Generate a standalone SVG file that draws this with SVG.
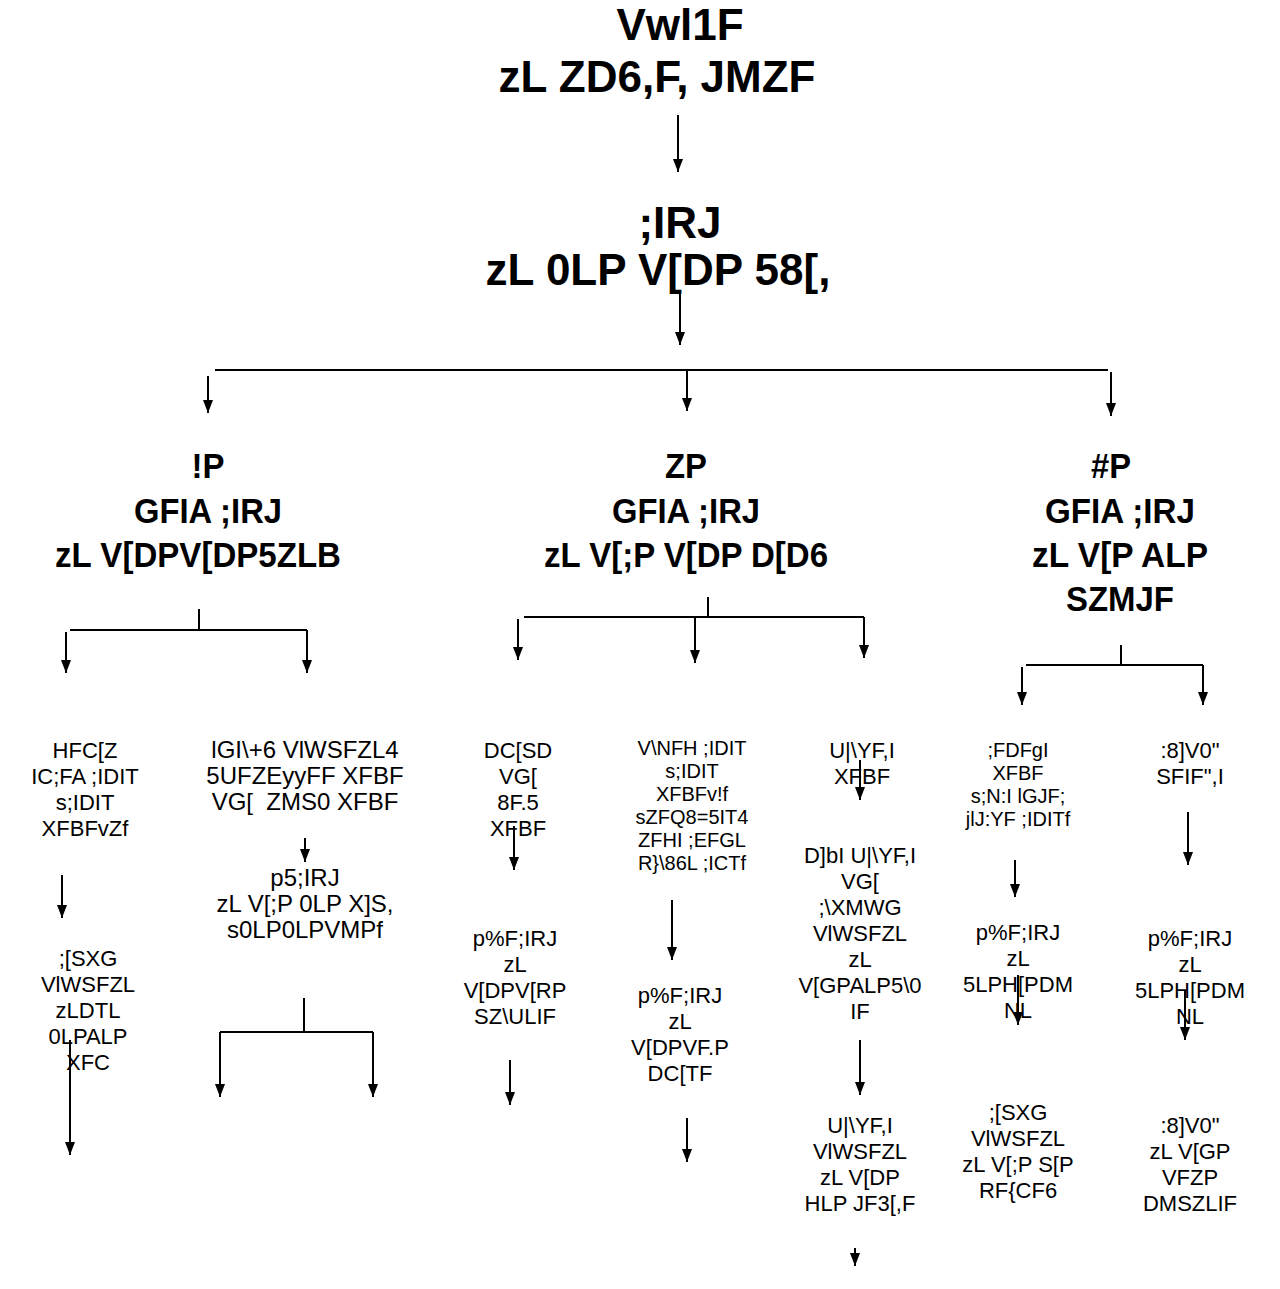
<svg xmlns="http://www.w3.org/2000/svg" width="1280" height="1289" viewBox="0 0 1280 1289">
<defs>
<marker id="ah" markerUnits="userSpaceOnUse" markerWidth="13" markerHeight="10" refX="13" refY="5" orient="auto" viewBox="0 0 13 10">
<path d="M0,0 L13,5 L0,10 Z" fill="#000"/>
</marker>
<style>
.t1{font-family:"Liberation Sans",Arial,sans-serif;font-weight:bold;font-size:44px;fill:#000;text-anchor:middle}
.t2{font-family:"Liberation Sans",Arial,sans-serif;font-weight:bold;font-size:35px;fill:#000;text-anchor:middle}
.t3{font-family:"Liberation Sans",Arial,sans-serif;font-size:22px;fill:#000;text-anchor:middle}
.t5{font-family:"Liberation Sans",Arial,sans-serif;font-size:24px;fill:#000;text-anchor:middle;white-space:pre}
.t4{font-family:"Liberation Sans",Arial,sans-serif;font-size:20px;fill:#000;text-anchor:middle}
.ln{stroke:#000;stroke-width:2;fill:none}
.ar{stroke:#000;stroke-width:2;fill:none;marker-end:url(#ah)}
</style>
</defs>
<rect width="1280" height="1289" fill="#fff"/>

<g id="connectors">
<path class="ar" d="M678,115 V172"/>
<path class="ar" d="M680,292 V345"/>
<path class="ln" d="M215,370 H1108"/>
<path class="ar" d="M208,376 V413"/>
<path class="ar" d="M687,370 V411"/>
<path class="ar" d="M1111,372 V416"/>

<path class="ln" d="M199,609 V630 M70,630 H307"/>
<path class="ar" d="M66,632 V673"/>
<path class="ar" d="M307,630 V673"/>

<path class="ln" d="M708,597 V617 M524,617 H864"/>
<path class="ar" d="M518,619 V660"/>
<path class="ar" d="M695,617 V663"/>
<path class="ar" d="M864,617 V658"/>

<path class="ln" d="M1121,645 V665 M1026,665 H1203"/>
<path class="ar" d="M1022,667 V705"/>
<path class="ar" d="M1203,665 V705"/>

<path class="ar" d="M62,875 V918"/>
<path class="ar" d="M70,1040 V1155"/>
<path class="ar" d="M305,838 V862"/>
<path class="ln" d="M304,998 V1032 M220,1032 H373"/>
<path class="ar" d="M220,1032 V1097"/>
<path class="ar" d="M373,1032 V1097"/>
<path class="ar" d="M514,826 V870"/>
<path class="ar" d="M510,1060 V1105"/>
<path class="ar" d="M672,900 V960"/>
<path class="ar" d="M687,1118 V1162"/>
<path class="ar" d="M860,760 V800"/>
<path class="ar" d="M860,1040 V1095"/>
<path class="ar" d="M855,1248 V1266"/>
<path class="ar" d="M1015,860 V897"/>
<path class="ar" d="M1018,975 V1025"/>
<path class="ar" d="M1188,812 V865"/>
<path class="ar" d="M1185,990 V1040"/>
</g>

<g id="n-root">
<text class="t1"><tspan x="680" y="40">Vwl1F</tspan><tspan x="657" y="92">zL ZD6,F, JMZF</tspan></text>
</g>
<g id="n-main">
<text class="t1"><tspan x="680" y="238">;IRJ</tspan><tspan x="658" y="285">zL 0LP V[DP 58[,</tspan></text>
</g>

<g id="n-b1">
<text class="t2" x="208" y="478" textLength="33" lengthAdjust="spacingAndGlyphs">!P</text>
<text class="t2" x="208" y="523" textLength="148" lengthAdjust="spacingAndGlyphs">GFIA ;IRJ</text>
<text class="t2" x="198" y="567" textLength="286" lengthAdjust="spacingAndGlyphs">zL V[DPV[DP5ZLB</text>
</g>
<g id="n-b2">
<text class="t2" x="686" y="478" textLength="42" lengthAdjust="spacingAndGlyphs">ZP</text>
<text class="t2" x="686" y="523" textLength="148" lengthAdjust="spacingAndGlyphs">GFIA ;IRJ</text>
<text class="t2" x="686" y="567" textLength="284" lengthAdjust="spacingAndGlyphs">zL V[;P V[DP D[D6</text>
</g>
<g id="n-b3">
<text class="t2" x="1111" y="478" textLength="40" lengthAdjust="spacingAndGlyphs">#P</text>
<text class="t2" x="1120" y="523" textLength="150" lengthAdjust="spacingAndGlyphs">GFIA ;IRJ</text>
<text class="t2" x="1120" y="567" textLength="176" lengthAdjust="spacingAndGlyphs">zL V[P ALP</text>
<text class="t2" x="1120" y="611" textLength="108" lengthAdjust="spacingAndGlyphs">SZMJF</text>
</g>

<g id="n-c1a">
<text class="t3"><tspan x="85" y="758">HFC[Z</tspan><tspan x="85" y="784">IC;FA ;IDIT</tspan><tspan x="85" y="810">s;IDIT</tspan><tspan x="85" y="836">XFBFvZf</tspan></text>
</g>
<g id="n-c1b">
<text class="t3"><tspan x="88" y="966">;[SXG</tspan><tspan x="88" y="992">VlWSFZL</tspan><tspan x="88" y="1018">zLDTL</tspan><tspan x="88" y="1044">0LPALP</tspan><tspan x="88" y="1070">XFC</tspan></text>
</g>

<g id="n-c2a">
<text class="t5"><tspan x="305" y="758">lGI\+6 VlWSFZL4</tspan><tspan x="305" y="784">5UFZEyyFF XFBF</tspan><tspan x="305" y="810">VG[  ZMS0 XFBF</tspan></text>
</g>
<g id="n-c2b">
<text class="t5"><tspan x="305" y="886">p5;IRJ</tspan><tspan x="305" y="912">zL V[;P 0LP X]S,</tspan><tspan x="305" y="938">s0LP0LPVMPf</tspan></text>
</g>

<g id="n-c3a">
<text class="t3"><tspan x="518" y="758">DC[SD</tspan><tspan x="518" y="784">VG[</tspan><tspan x="518" y="810">8F.5</tspan><tspan x="518" y="836">XFBF</tspan></text>
</g>
<g id="n-c3b">
<text class="t3"><tspan x="515" y="946">p%F;IRJ</tspan><tspan x="515" y="972">zL</tspan><tspan x="515" y="998">V[DPV[RP</tspan><tspan x="515" y="1024">SZ\ULIF</tspan></text>
</g>

<g id="n-c4a">
<text class="t4"><tspan x="692" y="755">V\NFH ;IDIT</tspan><tspan x="692" y="778">s;IDIT</tspan><tspan x="692" y="801">XFBFv!f</tspan><tspan x="692" y="824">sZFQ8=5IT4</tspan><tspan x="692" y="847">ZFHI ;EFGL</tspan><tspan x="692" y="870">R}\86L ;ICTf</tspan></text>
</g>
<g id="n-c4b">
<text class="t3"><tspan x="680" y="1003">p%F;IRJ</tspan><tspan x="680" y="1029">zL</tspan><tspan x="680" y="1055">V[DPVF.P</tspan><tspan x="680" y="1081">DC[TF</tspan></text>
</g>

<g id="n-c5a">
<text class="t3"><tspan x="862" y="758">U|\YF,I</tspan><tspan x="862" y="784">XFBF</tspan></text>
</g>
<g id="n-c5b">
<text class="t3"><tspan x="860" y="863">D]bI U|\YF,I</tspan><tspan x="860" y="889">VG[</tspan><tspan x="860" y="915">;\XMWG</tspan><tspan x="860" y="941">VlWSFZL</tspan><tspan x="860" y="967">zL</tspan><tspan x="860" y="993">V[GPALP5\0</tspan><tspan x="860" y="1019">IF</tspan></text>
</g>
<g id="n-c5c">
<text class="t3"><tspan x="860" y="1133">U|\YF,I</tspan><tspan x="860" y="1159">VlWSFZL</tspan><tspan x="860" y="1185">zL V[DP</tspan><tspan x="860" y="1211">HLP JF3[,F</tspan></text>
</g>

<g id="n-c6a">
<text class="t4"><tspan x="1018" y="757">;FDFgI</tspan><tspan x="1018" y="780">XFBF</tspan><tspan x="1018" y="803">s;N:I lGJF;</tspan><tspan x="1018" y="826">jlJ:YF ;IDITf</tspan></text>
</g>
<g id="n-c6b">
<text class="t3"><tspan x="1018" y="940">p%F;IRJ</tspan><tspan x="1018" y="966">zL</tspan><tspan x="1018" y="992">5LPH[PDM</tspan><tspan x="1018" y="1018">NL</tspan></text>
</g>
<g id="n-c6c">
<text class="t3"><tspan x="1018" y="1120">;[SXG</tspan><tspan x="1018" y="1146">VlWSFZL</tspan><tspan x="1018" y="1172">zL V[;P S[P</tspan><tspan x="1018" y="1198">RF{CF6</tspan></text>
</g>

<g id="n-c7a">
<text class="t3"><tspan x="1190" y="758">:8]V0"</tspan><tspan x="1190" y="784">SFIF",I</tspan></text>
</g>
<g id="n-c7b">
<text class="t3"><tspan x="1190" y="946">p%F;IRJ</tspan><tspan x="1190" y="972">zL</tspan><tspan x="1190" y="998">5LPH[PDM</tspan><tspan x="1190" y="1024">NL</tspan></text>
</g>
<g id="n-c7c">
<text class="t3"><tspan x="1190" y="1133">:8]V0"</tspan><tspan x="1190" y="1159">zL V[GP</tspan><tspan x="1190" y="1185">VFZP</tspan><tspan x="1190" y="1211">DMSZLIF</tspan></text>
</g>
</svg>
